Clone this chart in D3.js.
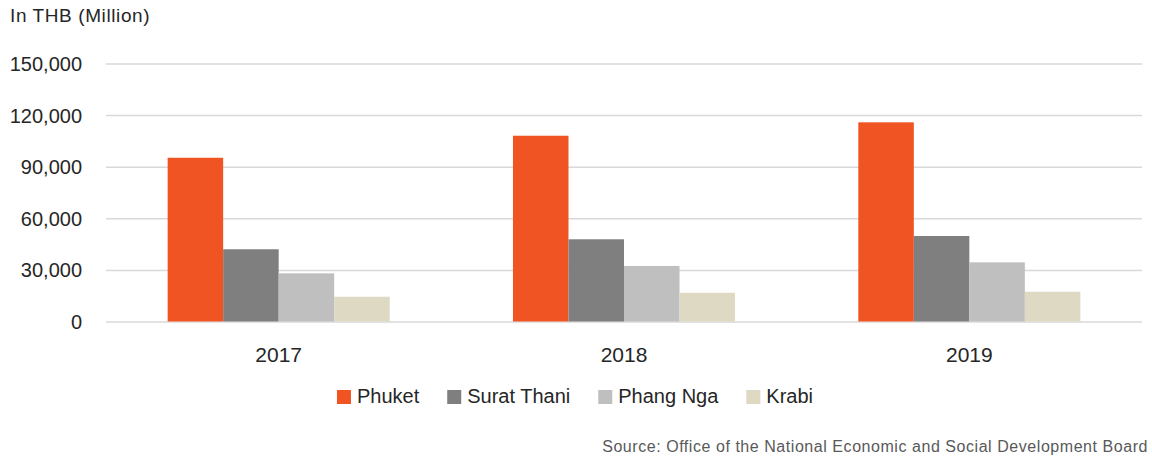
<!DOCTYPE html>
<html>
<head>
<meta charset="utf-8">
<script src="https://cdn.jsdelivr.net/npm/d3@7"></script>
<style>
  html, body { margin: 0; padding: 0; background: #ffffff; }
  svg { display: block; font-family: "Liberation Sans", Arial, sans-serif; }
</style>
</head>
<body>
<svg id="chart" width="1152" height="459"></svg>
<script>
// ---- data ----
const years = ["2017", "2018", "2019"];
const provinces = ["Phuket", "Surat Thani", "Phang Nga", "Krabi"];
const phuket = [95200, 108000, 115800];
const suratThani = [42000, 47800, 49700];
const phangNga = [28000, 32300, 34400];
const krabi = [14400, 16700, 17300];
const yTicks = [0, 30000, 60000, 90000, 120000, 150000];
const colors = ["#F15423", "#7F7F7F", "#BFBFBF", "#DDD9C3"];
const titleText = "In THB (Million)";
const sourceText = "Source: Office of the National Economic and Social Development Board";

const seriesValues = [phuket, suratThani, phangNga, krabi];

const svg = d3.select("#chart");

const x0 = d3.scaleBand().domain(years).range([106, 1142]).paddingInner(0.357).paddingOuter(0.1785);
const x1 = d3.scaleBand().domain(provinces).range([0, x0.bandwidth()]).padding(0);
const y = d3.scaleLinear().domain([0, 150000]).range([321.5, 63.5]);
const color = d3.scaleOrdinal().domain(provinces).range(colors);

// gridlines
const yAxis = d3.axisLeft(y).tickValues(yTicks).tickSize(-(1142 - 106)).tickFormat(d3.format(","));
const gy = svg.append("g").attr("transform", "translate(106,0)").call(yAxis);
gy.select(".domain").remove();
gy.selectAll(".tick line").attr("stroke", "#D9D9D9").attr("stroke-width", 1.5);
gy.selectAll(".tick text")
  .attr("x", -24)
  .attr("dy", "0.35em")
  .attr("fill", "#262626")
  .style("font-size", "20px");

// bars
const groups = svg.append("g").selectAll("g")
  .data(years)
  .join("g")
  .attr("transform", d => `translate(${x0(d)},0)`);

groups.selectAll("rect")
  .data((d, i) => provinces.map((p, k) => ({ p, v: seriesValues[k][i] })))
  .join("rect")
  .attr("x", d => x1(d.p))
  .attr("y", d => y(d.v))
  .attr("width", x1.bandwidth())
  .attr("height", d => y(0) - y(d.v))
  .attr("fill", d => color(d.p));

// x axis labels
const xAxis = d3.axisBottom(x0).tickSize(0);
const gx = svg.append("g").attr("transform", `translate(0,${y(0)})`).call(xAxis);
gx.select(".domain").remove();
gx.selectAll(".tick text")
  .attr("y", 40)
  .attr("dy", 0)
  .attr("fill", "#262626")
  .style("font-size", "21px");

// title
svg.append("text")
  .attr("x", 10)
  .attr("y", 22)
  .attr("fill", "#262626")
  .style("font-size", "19px")
  .style("letter-spacing", "0.6px")
  .text(titleText);

// legend
const legend = svg.append("g");
const items = legend.selectAll("g").data(provinces).join("g");
items.append("rect")
  .attr("width", 14).attr("height", 14)
  .attr("y", -13)
  .attr("fill", d => color(d));
items.append("text")
  .attr("x", 20)
  .attr("y", 0)
  .attr("fill", "#262626")
  .style("font-size", "20px")
  .text(d => d);
const widths = [];
items.each(function() {
  const w = 20 + this.querySelector("text").getComputedTextLength();
  widths.push(w);
});
const gap = 28;
const total = d3.sum(widths) + gap * (widths.length - 1);
let startX = 575 - total / 2;
items.attr("transform", (d, i) => {
  const t = `translate(${startX},403)`;
  startX += widths[i] + gap;
  return t;
});

// source
svg.append("text")
  .attr("x", 1148)
  .attr("y", 452)
  .attr("text-anchor", "end")
  .attr("fill", "#595959")
  .style("font-size", "16px")
  .style("letter-spacing", "0.55px")
  .text(sourceText);
</script>
</body>
</html>
